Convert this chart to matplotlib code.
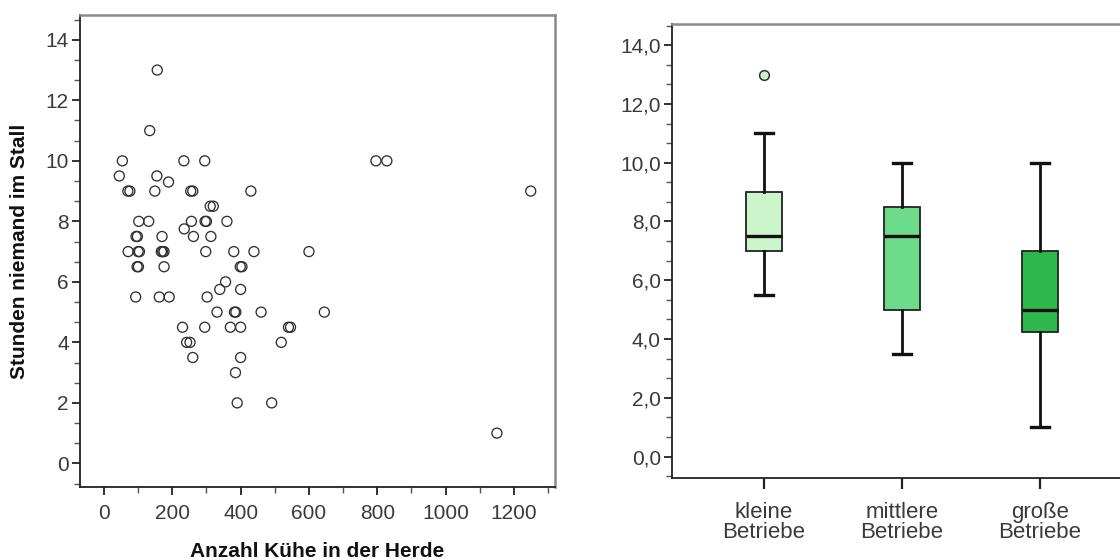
import matplotlib
matplotlib.use("Agg")
import matplotlib.pyplot as plt
from matplotlib.ticker import MultipleLocator, FixedLocator, FuncFormatter

plt.rcParams["font.family"] = ["Liberation Sans", "DejaVu Sans"]

# Herd size vs. hours with nobody in the barn
herd_size = [156, 134, 54, 234, 295, 796, 828,
             45, 155, 189,
             70, 76, 149, 254, 260, 430, 1249,
             311, 320,
             102, 131, 256, 296, 300, 360,
             235,
             94, 98, 170, 262, 313,
             71, 100, 104, 168, 172, 176, 298, 380, 439, 600,
             97, 101, 176, 399, 404,
             356, 339, 400,
             93, 162, 191, 302,
             331, 382, 386, 460, 645,
             230, 295, 370, 400, 540, 546,
             242, 252, 519,
             260, 400,
             385, 390, 491, 1150]
hours_empty = [13, 11, 10, 10, 10, 10, 10,
               9.5, 9.5, 9.3,
               9, 9, 9, 9, 9, 9, 9,
               8.5, 8.5,
               8, 8, 8, 8, 8, 8,
               7.75,
               7.5, 7.5, 7.5, 7.5, 7.5,
               7, 7, 7, 7, 7, 7, 7, 7, 7, 7,
               6.5, 6.5, 6.5, 6.5, 6.5,
               6, 5.75, 5.75,
               5.5, 5.5, 5.5, 5.5,
               5, 5, 5, 5, 5,
               4.5, 4.5, 4.5, 4.5, 4.5, 4.5,
               4, 4, 4,
               3.5, 3.5,
               3, 2, 2, 1]

# Box plot summaries per farm size class
groups = ["kleine\nBetriebe", "mittlere\nBetriebe", "große\nBetriebe"]
whisker_low = [5.5, 3.5, 1.0]
quart1 = [7.0, 5.0, 4.25]
medians = [7.5, 7.5, 5.0]
quart3 = [9.0, 8.5, 7.0]
whisker_high = [11.0, 10.0, 10.0]
outliers = [[13.0], [], []]
box_colors = ["#ccf5cc", "#6cdc8a", "#2eb84c"]

TXT = "#3a3a3a"
DARK = "#222222"
GREY = "#8a8a8a"

fig = plt.figure(figsize=(11.2, 5.6), dpi=100)
W, H = 1120, 560


def px_axes(l, t, r, b):
    return fig.add_axes([l / W, (H - b) / H, (r - l) / W, (b - t) / H])


# ---------------- scatter ----------------
ax1 = px_axes(80, 15, 555, 487)
ax1.scatter(herd_size, hours_empty, s=52, facecolors="none",
            edgecolors="#303030", linewidths=0.95, zorder=3)
ax1.set_xlim(-70, 1320)
ax1.set_ylim(-0.78, 14.82)
ax1.xaxis.set_major_locator(FixedLocator([0, 200, 400, 600, 800, 1000, 1200]))
ax1.xaxis.set_minor_locator(MultipleLocator(100))
ax1.yaxis.set_major_locator(MultipleLocator(2))
ax1.yaxis.set_minor_locator(MultipleLocator(2 / 3))
ax1.set_xlabel("Anzahl Kühe in der Herde", fontsize=15, fontweight="bold",
               color="#111111", labelpad=14)
ax1.set_ylabel("Stunden niemand im Stall", fontsize=15, fontweight="bold",
               color="#111111", labelpad=12)

# ---------------- box plot ----------------
ax2 = px_axes(672, 24, 1132, 478)
stats = []
for i in range(len(groups)):
    stats.append(dict(med=medians[i], q1=quart1[i], q3=quart3[i],
                      whislo=whisker_low[i], whishi=whisker_high[i],
                      fliers=outliers[i], label=groups[i]))
bp = ax2.bxp(stats, positions=[1, 2, 3], widths=0.255, patch_artist=True,
             showfliers=True,
             boxprops=dict(edgecolor=DARK, linewidth=1.3),
             medianprops=dict(color="#111111", linewidth=2.4),
             whiskerprops=dict(color="#111111", linewidth=2.0),
             capprops=dict(color="#111111", linewidth=2.4),
             capwidths=0.125,
             flierprops=dict(marker="o", markersize=7, markerfacecolor=box_colors[0],
                             markeredgecolor="#303030", markeredgewidth=1.1))
for patch, c in zip(bp["boxes"], box_colors):
    patch.set_facecolor(c)
ax2.set_xlim(1 / 3, 11 / 3)
ax2.set_ylim(-0.73, 14.72)
ax2.yaxis.set_major_locator(MultipleLocator(2))
ax2.yaxis.set_minor_locator(MultipleLocator(2 / 3))
ax2.yaxis.set_major_formatter(FuncFormatter(lambda v, p: f"{v:.1f}".replace(".", ",")))
ax2.set_xticks([1, 2, 3])
ax2.set_xticklabels(groups, linespacing=0.95)

for ax in (ax1, ax2):
    ax.set_facecolor("white")
    for side in ("top", "right"):
        ax.spines[side].set_color(GREY)
        ax.spines[side].set_linewidth(1.8)
    for side in ("left", "bottom"):
        ax.spines[side].set_color(DARK)
        ax.spines[side].set_linewidth(1.3)
    ax.tick_params(axis="both", which="major", direction="out", length=6,
                   width=1.3, color=DARK, labelcolor=TXT, labelsize=15, pad=2)
    ax.tick_params(axis="both", which="minor", direction="out", length=4,
                   width=1.0, color="#555555")

ax1.tick_params(axis="x", which="major", pad=6)
ax2.tick_params(axis="x", which="major", length=8, width=1.6, pad=9, labelsize=16)
ax2.spines["right"].set_visible(False)

fig.savefig("out.png", dpi=100, facecolor="white")
